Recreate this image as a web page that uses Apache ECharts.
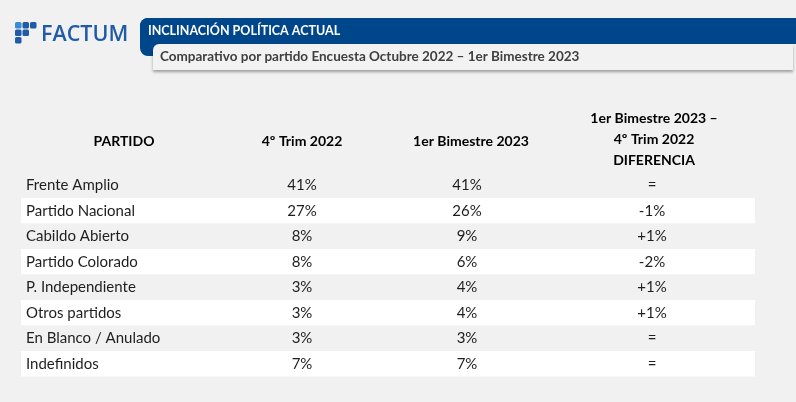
<!DOCTYPE html>
<html>
<head>
<meta charset="utf-8">
<script src="https://cdn.jsdelivr.net/npm/echarts@6/dist/echarts.min.js"></script>
<style>
  html, body { margin: 0; padding: 0; background: #f1f1f1; }
  #chart { width: 796px; height: 402px; }
</style>
</head>
<body>
<div id="chart"></div>
<script>
let partidos = ["Frente Amplio", "Partido Nacional", "Cabildo Abierto", "Partido Colorado",
                "P. Independiente", "Otros partidos", "En Blanco / Anulado", "Indefinidos"];
let trim4_2022 = [41, 27, 8, 8, 3, 3, 3, 7];
let bim1_2023 = [41, 26, 9, 6, 4, 4, 3, 7];
let diferencia = [0, -1, 1, -2, 1, 1, 0, 0];
let encabezados = ["PARTIDO", "4º Trim 2022", "1er Bimestre 2023"];
let encabezadoDif = ["1er Bimestre 2023 –", "4º Trim 2022", "DIFERENCIA"];

// posiciones de columnas (px)
let colX = [302, 467, 652];
let fontMain = "Lato, 'Noto Sans', sans-serif";

let chart = echarts.init(document.getElementById("chart"));

let fmtPct = (v) => v + "%";
let fmtDif = (v) => v === 0 ? "=" : (v > 0 ? "+" + v + "%" : v + "%");

// una columna de la tabla = serie custom que escribe el valor en su celda
let colSeries = (values, x, fmt) => ({
    type: "custom",
    silent: true,
    data: values.map((v, i) => [x, i, v]),
    renderItem: (params, api) => {
        let pt = api.coord([api.value(0), api.value(1)]);
        return {
            type: "text",
            x: pt[0],
            y: pt[1],
            style: {
                text: fmt(api.value(2)),
                fill: "#1e1e1e",
                font: "15px " + fontMain,
                textAlign: "center",
                textVerticalAlign: "middle"
            }
        };
    }
});

// logo squares (F shape)
let logoSquares = [];
[[0, 0, "#3a8ad6"], [1, 0, "#1f5ba8"], [2, 0, "#1f5ba8"],
 [0, 1, "#1f5ba8"], [1, 1, "#1f5ba8"], [0, 2, "#1f5ba8"]].forEach((s) => {
    logoSquares.push({
        type: "rect",
        shape: { x: 15 + s[0] * 7.5, y: 22 + s[1] * 7.5, width: 6.5, height: 6.5, r: 1.5 },
        style: { fill: s[2] }
    });
});

let headerText = [];
let headY = 141;
headerText.push({ type: "text", x: 124, y: headY, style: { text: encabezados[0] } });
headerText.push({ type: "text", x: colX[0], y: headY, style: { text: encabezados[1] } });
headerText.push({ type: "text", x: colX[1] + 4, y: headY, style: { text: encabezados[2] } });
[118, 139, 160].forEach((y, i) => {
    headerText.push({ type: "text", x: 654, y: y, style: { text: encabezadoDif[i] } });
});
headerText.forEach((h) => {
    Object.assign(h.style, {
        fill: "#000", font: "bold 14px " + fontMain,
        textAlign: "center", textVerticalAlign: "middle"
    });
});

let option = {
    backgroundColor: "#f1f1f1",
    animation: false,
    grid: { left: 21, right: 41, top: 172.5, height: 204 },
    xAxis: {
        type: "value", min: 21, max: 755, show: false
    },
    yAxis: {
        type: "category",
        inverse: true,
        data: partidos,
        axisLine: { show: false },
        axisTick: { show: false },
        splitLine: { show: false },
        splitArea: { show: true, areaStyle: { color: ["#f1f1f1", "#ffffff"] } },
        axisLabel: {
            inside: true,
            margin: 5,
            color: "#1e1e1e",
            fontFamily: fontMain,
            fontSize: 15
        }
    },
    series: [
        colSeries(trim4_2022, colX[0], fmtPct),
        colSeries(bim1_2023, colX[1], fmtPct),
        colSeries(diferencia, colX[2], fmtDif)
    ],
    graphic: [
        // banda azul del título
        { type: "rect", shape: { x: 140, y: 18, width: 656, height: 26, r: [8, 0, 0, 0] }, style: { fill: "#00468b" } },
        { type: "rect", shape: { x: 140, y: 18, width: 30, height: 38, r: [8, 0, 0, 8] }, style: { fill: "#00468b" } },
        {
            type: "rect", shape: { x: 153, y: 44, width: 640, height: 26, r: [6, 0, 0, 0] },
            style: { fill: "#f2f2f2", shadowBlur: 3, shadowOffsetY: 2, shadowColor: "rgba(0,0,0,0.35)" }
        },
        {
            type: "text", x: 148, y: 31,
            style: { text: "INCLINACIÓN POLÍTICA ACTUAL", fill: "#fff", font: "bold 12.5px " + fontMain, textVerticalAlign: "middle" }
        },
        {
            type: "text", x: 160, y: 57,
            style: { text: "Comparativo por partido Encuesta Octubre 2022 – 1er Bimestre 2023", fill: "#404040", font: "bold 13.5px " + fontMain, textVerticalAlign: "middle" }
        },
        // logo
        ...logoSquares,
        {
            type: "text", x: 41, y: 35,
            style: { text: "FACTUM", fill: "#1f5ba8", font: "600 21.5px 'Open Sans', sans-serif", textVerticalAlign: "middle" }
        },
        ...headerText
    ]
};

chart.setOption(option);
</script>
</body>
</html>
